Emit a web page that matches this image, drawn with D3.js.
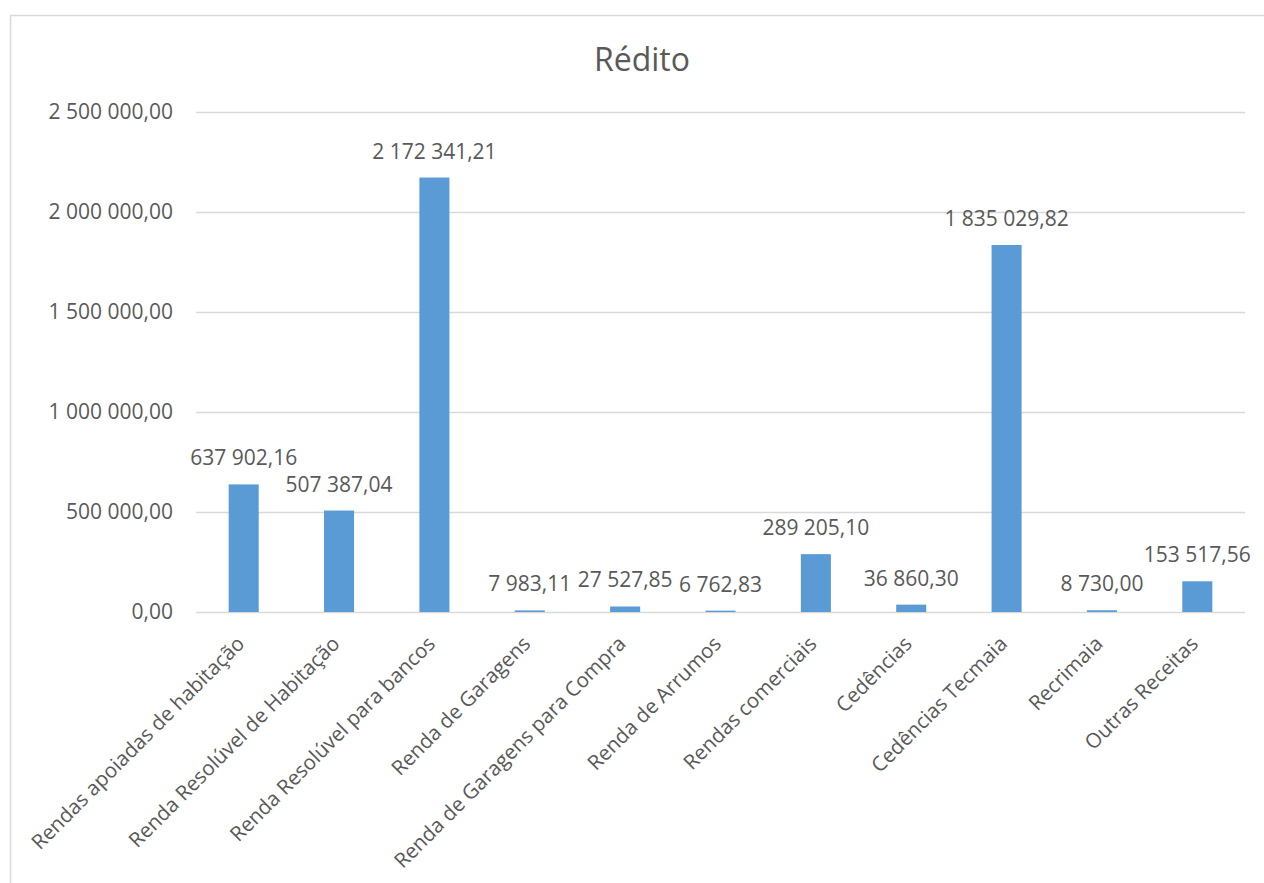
<!DOCTYPE html>
<html>
<head>
<meta charset="utf-8">
<script src="https://cdn.jsdelivr.net/npm/d3@7"></script>
<style>
  body { margin: 0; background: #fff; }
  svg text { font-family: "Open Sans", sans-serif; fill: #595959; }
</style>
</head>
<body>
<div id="chart-container"></div>
<script>
const categories = [
  'Rendas apoiadas de habitação',
  'Renda Resolúvel de Habitação',
  'Renda Resolúvel para bancos',
  'Renda de Garagens',
  'Renda de Garagens para Compra',
  'Renda de Arrumos',
  'Rendas comerciais',
  'Cedências',
  'Cedências Tecmaia',
  'Recrimaia',
  'Outras Receitas'
];
const values = [637902.16, 507387.04, 2172341.21, 7983.11, 27527.85, 6762.83,
  289205.10, 36860.30, 1835029.82, 8730.00, 153517.56];
const yTicks = [0, 500000, 1000000, 1500000, 2000000, 2500000];
const title = 'Rédito';

const barColor = '#5b9bd5';
const width = 1264, height = 883;
const margin = { top: 112, right: 19, bottom: 271, left: 196 };
const innerW = width - margin.left - margin.right;
const innerH = height - margin.top - margin.bottom;

const pt = d3.formatLocale({ decimal: ',', thousands: '\u00a0', grouping: [3], currency: ['', ''] });
const fmt = pt.format(',.2f');

const svg = d3.select('#chart-container')
  .append('svg')
  .attr('width', width)
  .attr('height', height);

// chart border
svg.append('rect')
  .attr('x', 10.5).attr('y', 15.5)
  .attr('width', 1300).attr('height', 900)
  .attr('fill', 'none')
  .attr('stroke', '#d9d9d9')
  .attr('stroke-width', 1.5);

svg.append('text')
  .attr('x', 642)
  .attr('y', 71)
  .attr('text-anchor', 'middle')
  .style('font-size', '32px')
  .text(title);

const g = svg.append('g')
  .attr('transform', `translate(${margin.left}, ${margin.top})`);

const x = d3.scaleBand()
  .domain(categories)
  .range([0, innerW])
  .paddingInner(0.685)
  .paddingOuter(0.685 / 2);

const y = d3.scaleLinear()
  .domain([0, 2500000])
  .range([innerH, 0]);

// y axis + gridlines
const yAxis = g.append('g')
  .call(d3.axisLeft(y).tickValues(yTicks).tickFormat(fmt).tickSize(-innerW).tickPadding(23));
yAxis.select('.domain').remove();
yAxis.selectAll('line').attr('stroke', '#d9d9d9').attr('stroke-width', 1.5);
yAxis.selectAll('text').style('font-size', '21px').attr('fill', '#595959');

// bars
g.selectAll('.bar')
  .data(values)
  .join('rect')
  .attr('class', 'bar')
  .attr('x', (d, i) => x(categories[i]))
  .attr('y', d => y(d))
  .attr('width', x.bandwidth())
  .attr('height', d => innerH - y(d))
  .attr('fill', barColor);

// value labels
g.selectAll('.val')
  .data(values)
  .join('text')
  .attr('class', 'val')
  .attr('x', (d, i) => x(categories[i]) + x.bandwidth() / 2)
  .attr('y', d => y(d) - 19)
  .attr('text-anchor', 'middle')
  .style('font-size', '21px')
  .text(d => fmt(d));

// category labels
g.selectAll('.cat')
  .data(categories)
  .join('text')
  .attr('class', 'cat')
  .attr('text-anchor', 'end')
  .attr('transform', d => `translate(${x(d) + x.bandwidth() / 2 + 2}, ${innerH + 33}) rotate(-45)`)
  .style('font-size', '20.5px')
  .text(d => d);
</script>
</body>
</html>
